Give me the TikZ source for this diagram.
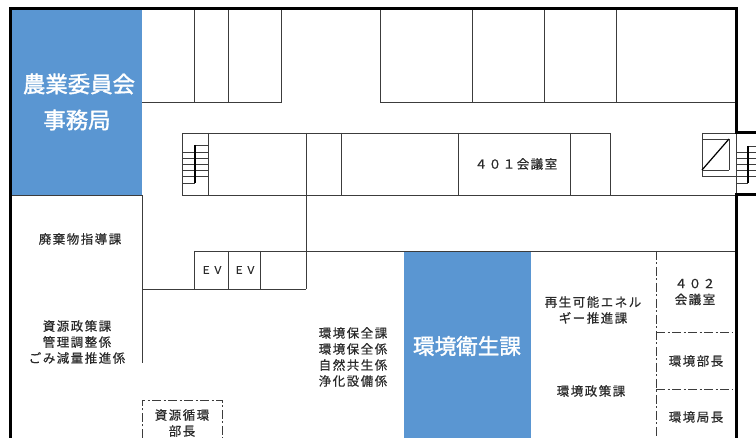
\documentclass[tikz,border=0pt]{standalone}
\usepackage{fontspec}
\newfontfamily\jpsmall[LetterSpace=12,FakeBold=0.5]{Noto Sans CJK JP}
\newfontfamily\jpbig[FakeBold=1.5]{Noto Sans CJK JP}
\definecolor{panelblue}{HTML}{5A96D2}
\definecolor{inkline}{HTML}{3C3C3C}
\definecolor{inktext}{HTML}{2A2A2A}
\tikzset{
  wall/.style={draw=black,line width=3pt},
  thin wall/.style={draw=inkline,line width=0.9pt},
  stair/.style={draw=inkline,line width=0.8pt},
  bar/.style={draw=black,line width=2pt},
  dashline/.style={draw=inkline,line width=0.9pt,dash pattern=on 9pt off 2.5pt on 2pt off 2.5pt},
  panel/.style={fill=panelblue,draw=none},
  label/.style={font=\jpsmall\fontsize{12.5}{16}\selectfont,text=inktext,align=center,inner sep=0pt},
  evlabel/.style={font=\jpsmall\fontsize{10.5}{12}\selectfont,text=inktext,align=center,inner sep=0pt},
  biglabel/.style={font=\jpbig\fontsize{21.6}{24}\selectfont,text=white,align=center,inner sep=0pt},
  widelabel/.style={font=\jpbig\fontsize{22.4}{24}\selectfont,text=white,align=center,inner sep=0pt},
}
\begin{document}
\begin{tikzpicture}[x=1pt,y=-1pt]
\useasboundingbox (0,0) rectangle (756,438);
\fill[white] (0,0) rectangle (756,438);
% blue panels
\path[panel] (10,9) rectangle (142,195);
\path[panel] (404,251) rectangle (531,438);
% top rooms
\draw[thin wall] (142,102) -- (281,102) -- (281,9);
\draw[thin wall] (194,9) -- (194,102);
\draw[thin wall] (228,9) -- (228,102);
\draw[thin wall] (380,9) -- (380,102) -- (736,102);
\draw[thin wall] (472,9) -- (472,102);
\draw[thin wall] (544,9) -- (544,102);
\draw[thin wall] (616,9) -- (616,102);
% central block
\draw[thin wall] (182,195) -- (182,133) -- (610,133) -- (610,195);
\draw[thin wall] (182,195) -- (736,195);
\draw[thin wall] (10,195) -- (142,195);
\foreach \x in {208,306,341,458,570} \draw[thin wall] (\x,133) -- (\x,195);
% left stairs
\foreach \y in {152,158,164,170,176} \draw[stair] (182,\y) -- (209,\y);
\draw[stair] (195,145) -- (209,145);
\draw[stair] (182,183) -- (195,183);
\draw[bar] (195,145) -- (195,183);
% lower-left lines
\draw[thin wall] (142,195) -- (142,363);
\draw[thin wall] (306,195) -- (306,289);
\draw[thin wall] (142,289) -- (306,289);
\draw[thin wall] (194,251) -- (736,251);
\foreach \x in {194,228,260} \draw[thin wall] (\x,251) -- (\x,289);
% lift and right stairs
\draw[thin wall] (702,133) -- (702,176);
\draw[thin wall] (702,133) -- (736,133);
\draw[thin wall] (729,139) -- (729,170);
\draw[thin wall] (702,139) -- (729,139);
\draw[thin wall] (702,170) -- (729,170);
\draw[thin wall] (702,176) -- (736,176);
\draw[line width=1.2pt,black] (702,170) -- (729,139);
\draw[thin wall] (736,133) -- (736,195);
\foreach \y in {152,158,164,170,176} \draw[stair] (736,\y) -- (756,\y);
\draw[stair] (748,146) -- (756,146);
\draw[stair] (736,183) -- (748,183);
\draw[bar] (748,146) -- (748,183);
% dashed partitions
\draw[dashline] (656,251) -- (656,438);
\draw[dashline] (656,332) -- (733,332);
\draw[dashline] (656,389) -- (733,389);
\draw[dashline] (142,438) -- (142,400) -- (222,400) -- (222,438);
% outer walls
\draw[wall] (10,438) -- (10,8.5) -- (736,8.5) -- (736,133) -- (756,133);
\draw[wall] (756,195) -- (736,195) -- (736,438);
% labels
\node[widelabel] (n1) at (79,84) {農業委員会};
\node[widelabel] (n2) at (77,120) {事務局};
\node[biglabel] (n3) at (467,346) {環境衛生課};
\node[label] (n4) at (80,239) {廃棄物指導課};
\node[label] (n5) at (77,342) {資源政策課\\管理調整係\\ごみ減量推進係};
\node[label] (n6) at (182,423) {資源循環\\部長};
\node[label] (n7) at (353,357) {環境保全課\\環境保全係\\自然共生係\\浄化設備係};
\node[label] (n8) at (593,310) {再生可能エネル\\ギー推進課};
\node[label] (n9) at (591,391) {環境政策課};
\node[label] (n10) at (695,292) {４０２\\会議室};
\node[label] (n11) at (696,361) {環境部長};
\node[label] (n12) at (696,417) {環境局長};
\node[label] (n13) at (516,164) {４０１会議室};
\node[evlabel] (n14) at (212,270) {ＥＶ};
\node[evlabel] (n15) at (245,270) {ＥＶ};
\end{tikzpicture}
\end{document}
